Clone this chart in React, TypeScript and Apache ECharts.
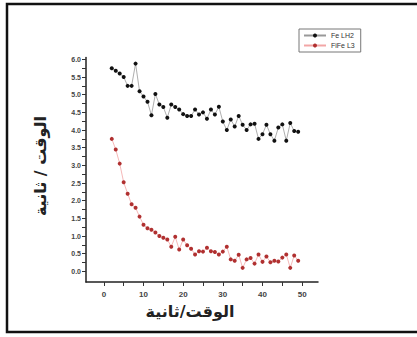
import React, { useEffect, useRef } from "react";
import * as echarts from "echarts";

const times: number[] = [
  2, 3, 4, 5, 6, 7, 8, 9, 10, 11, 12, 13, 14, 15, 16, 17, 18, 19, 20, 21, 22, 23, 24, 25,
  26, 27, 28, 29, 30, 31, 32, 33, 34, 35, 36, 37, 38, 39, 40, 41, 42, 43, 44, 45, 46, 47, 48, 49,
];
const blackValues: number[] = [
  5.75, 5.68, 5.6, 5.5, 5.25, 5.25, 5.88, 5.1, 4.95, 4.8, 4.42, 5.02, 4.72, 4.65, 4.35, 4.72,
  4.65, 4.58, 4.45, 4.4, 4.4, 4.58, 4.44, 4.5, 4.32, 4.58, 4.44, 4.66, 4.24, 4.0, 4.3, 4.1,
  4.4, 4.15, 4.0, 4.16, 4.18, 3.75, 3.88, 4.15, 3.88, 3.7, 4.07, 4.16, 3.7, 4.2, 3.97, 3.95,
];
const redValues: number[] = [
  3.75, 3.45, 3.05, 2.52, 2.2, 1.9, 1.8, 1.55, 1.32, 1.22, 1.18, 1.1, 1.0, 0.95, 0.9, 0.7,
  0.98, 0.62, 0.9, 0.74, 0.64, 0.48, 0.57, 0.56, 0.67, 0.57, 0.55, 0.48, 0.56, 0.7, 0.34, 0.3,
  0.47, 0.1, 0.34, 0.38, 0.22, 0.48, 0.27, 0.42, 0.26, 0.3, 0.28, 0.39, 0.48, 0.1, 0.45, 0.3,
];
const seriesNames: string[] = ["Fe LH2", "FiFe L3"];
const yTickValues: number[] = [0, 0.5, 1, 1.5, 2, 2.5, 3, 3.5, 4, 4.5, 5, 5.5, 6];
const yMinorValues: number[] = [0, 0.25, 0.5, 0.75, 1, 1.25, 1.5, 1.75, 2, 2.25, 2.5, 2.75, 3, 3.25, 3.5, 3.75, 4, 4.25, 4.5, 4.75, 5, 5.25, 5.5, 5.75, 6];
const xTickValues: number[] = [0, 10, 20, 30, 40, 50];
const xMinorValues: number[] = [0, 5, 10, 15, 20, 25, 30, 35, 40, 45, 50];
const axisTitle = "الوقت / ثانية";
const xAxisTitle = "الوقت/ثانية";

export default function App() {
  const ref = useRef<HTMLDivElement>(null);
  useEffect(() => {
    if (!ref.current) return;
    const chart = echarts.init(ref.current, undefined, { renderer: "svg" });
    const blackData = times.map((t, i) => [t, blackValues[i]]);
    const redData = times.map((t, i) => [t, redValues[i]]);
    chart.setOption({
      animation: false,
      backgroundColor: "#ffffff",
      grid: { left: 86, right: 99, top: 57.6, bottom: 55, containLabel: false },
      legend: {
        left: 299,
        top: 29,
        orient: "vertical",
        borderColor: "#777",
        borderWidth: 1,
        borderRadius: 0,
        padding: [3, 6, 3, 4],
        itemGap: 3,
        itemWidth: 22,
        itemHeight: 5,
        textStyle: { fontSize: 7, color: "#333", fontFamily: "Liberation Sans" },
        data: seriesNames,
      },
      xAxis: {
        type: "value",
        min: -4.5,
        max: 54,
        axisLine: { show: true, onZero: false, lineStyle: { color: "#222", width: 1.5 } },
        axisTick: { show: true, customValues: xMinorValues, length: 4, inside: false, lineStyle: { color: "#333", width: 1 } },
        axisLabel: {
          customValues: xTickValues,
          fontSize: 8,
          color: "#444",
          fontWeight: "bold",
          margin: 8,
          fontFamily: "Liberation Sans",
        },
        splitLine: { show: false },
      },
      yAxis: {
        type: "value",
        min: -0.3,
        max: 6.05,
        axisLine: { show: true, onZero: false, lineStyle: { color: "#222", width: 1.5 } },
        axisTick: { show: true, customValues: yMinorValues, length: 4, inside: false, lineStyle: { color: "#333", width: 1 } },
        axisLabel: {
          customValues: yTickValues,
          formatter: (v: number) => v.toFixed(1),
          fontSize: 7,
          color: "#444",
          fontWeight: "bold",
          margin: 5,
          fontFamily: "Liberation Sans",
        },
        splitLine: { show: false },
      },
      series: [
        {
          name: seriesNames[0],
          type: "line",
          data: blackData,
          symbol: "circle",
          symbolSize: 4,
          itemStyle: { color: "#111" },
          lineStyle: { color: "#999", width: 0.8 },
        },
        {
          name: seriesNames[1],
          type: "line",
          data: redData,
          symbol: "circle",
          symbolSize: 4,
          itemStyle: { color: "#b03030" },
          lineStyle: { color: "#f2a6a6", width: 0.8 },
        },
      ],
      graphic: [
        {
          type: "rect",
          shape: { x: 7, y: 4, width: 420, height: 328 },
          style: { fill: "none", stroke: "#111", lineWidth: 2.5 },
          silent: true,
        },
        {
          type: "text",
          x: 40,
          y: 166,
          rotation: Math.PI / 2,
          style: {
            text: axisTitle,
            fontSize: 16,
            fontWeight: "bold",
            fill: "#222",
            align: "center",
            verticalAlign: "middle",
            fontFamily: "DejaVu Sans",
          },
        },
        {
          type: "text",
          x: 190,
          y: 311,
          style: {
            text: xAxisTitle,
            fontSize: 16,
            fontWeight: "bold",
            fill: "#222",
            align: "center",
            verticalAlign: "middle",
            fontFamily: "DejaVu Sans",
          },
        },
      ],
    });
    return () => chart.dispose();
  }, []);
  return (
    <div
      ref={ref}
      style={{ position: "absolute", left: 0, top: 0, width: 417, height: 337 }}
    />
  );
}
